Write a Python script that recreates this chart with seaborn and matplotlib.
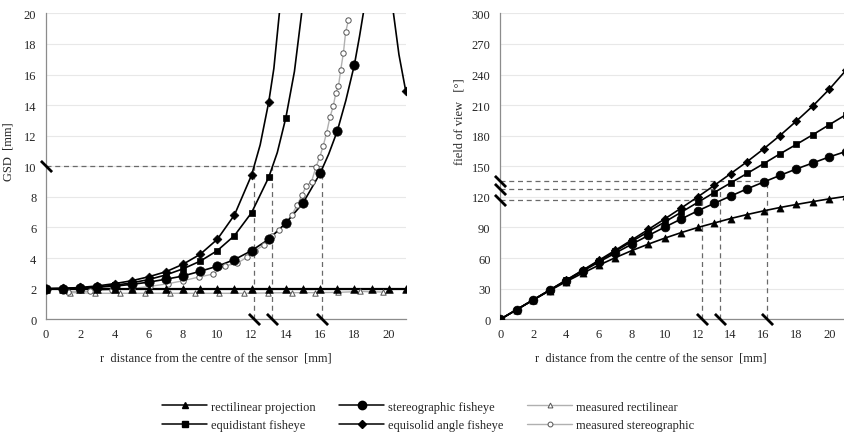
import numpy as np
import matplotlib
matplotlib.use("Agg")
import matplotlib.pyplot as plt
from matplotlib.lines import Line2D
import seaborn as sns

# radial distance on the sensor [mm]
r_int = [0, 1, 2, 3, 4, 5, 6, 7, 8, 9, 10, 11, 12, 13, 14, 15, 16, 17, 18, 19, 20, 21]

# ---- GSD [mm] (left panel) ----
gsd_rect = [2.0, 2.0, 2.0, 2.0, 2.0, 2.0, 2.0, 2.0, 2.0, 2.0, 2.0,
            2.0, 2.0, 2.0, 2.0, 2.0, 2.0, 2.0, 2.0, 2.0, 2.0, 2.0]

equidist_r = [0, 1, 2, 3, 4, 5, 6, 7, 8, 9, 10, 11, 12, 13, 14]
equidist_gsd = [2.0, 2.01, 2.05, 2.12, 2.22, 2.38, 2.6, 2.9, 3.3, 3.8, 4.49, 5.47, 6.97, 9.28, 13.18]
equidist_extra_r = [13.5, 14.5, 14.92, 15.1]
equidist_extra_gsd = [10.9, 16.2, 20.0, 22.5]

equisolid_r = [0, 1, 2, 3, 4, 5, 6, 7, 8, 9, 10, 11, 12, 13]
equisolid_gsd = [2.0, 2.02, 2.08, 2.18, 2.33, 2.52, 2.78, 3.11, 3.6, 4.25, 5.23, 6.82, 9.43, 14.2]
equisolid_extra_r = [12.5, 13.3, 13.62, 13.75]
equisolid_extra_gsd = [11.4, 16.4, 20.0, 22.0]
# branch coming back below 20 mm at the edge of the sensor
equisolid_back_r = [20.15, 20.28, 20.6, 21]
equisolid_back_gsd = [22.0, 20.0, 17.3, 14.9]

stereo_r = [0, 1, 2, 3, 4, 5, 6, 7, 8, 9, 10, 11, 12, 13, 14, 15, 16, 17, 18]
stereo_gsd = [2.0, 2.01, 2.04, 2.1, 2.17, 2.28, 2.43, 2.62, 2.83, 3.14, 3.47,
              3.9, 4.49, 5.23, 6.29, 7.6, 9.54, 12.3, 16.64]
stereo_extra_r = [16.5, 17.5, 18.3, 18.52, 18.65]
stereo_extra_gsd = [10.8, 14.3, 18.5, 20.0, 21.5]

meas_rect_r = [1.4, 2.86, 4.32, 5.78, 7.24, 8.7, 10.1, 11.56, 12.94, 14.34, 15.7, 17.07, 18.33, 19.69]
meas_rect_gsd = [1.75, 1.7, 1.7, 1.7, 1.7, 1.7, 1.7, 1.7, 1.72, 1.74, 1.74, 1.76, 1.82, 1.78]

meas_stereo_r = [1.3, 2.57, 3.83, 5.0, 6.07, 7.14, 8.0, 8.95, 9.73, 10.45, 11.13, 11.71,
                 12.2, 12.72, 13.17, 13.6, 14.01, 14.34, 14.67, 14.94, 15.2, 15.5, 15.76,
                 15.99, 16.18, 16.38, 16.57, 16.77, 16.92, 17.07, 17.2, 17.36, 17.49, 17.65]
meas_stereo_gsd = [1.8, 1.83, 1.94, 2.0, 2.15, 2.33, 2.52, 2.77, 2.95, 3.5, 3.65, 4.04,
                   4.49, 4.85, 5.45, 5.86, 6.3, 6.82, 7.47, 8.14, 8.72, 9.0, 9.97,
                   10.64, 11.34, 12.2, 13.19, 13.95, 14.82, 15.25, 16.28, 17.43, 18.78, 19.54]

gsd_limit = 10
gsd_limit_r = [12.14, 13.19, 16.13]

# ---- field of view [deg] (right panel) ----
fov_rect = [0, 9.5, 18.9, 28.1, 36.9, 45.2, 53.1, 60.5, 67.4, 73.7, 79.6,
            85.0, 90.0, 94.4, 98.8, 102.7, 106.3, 109.6, 112.6, 115.4, 118.1, 120.5]
fov_equidist = [0, 9.5, 19.1, 28.6, 38.2, 47.7, 57.3, 66.8, 76.4, 85.9, 95.5,
                105.0, 114.6, 124.3, 133.7, 143.0, 152.5, 162.2, 171.5, 181.0, 190.8, 200.5]
fov_equisolid = [0, 9.6, 19.1, 28.7, 38.4, 48.1, 57.9, 67.8, 77.9, 88.1, 98.5,
                 109.1, 120.0, 131.2, 142.8, 154.5, 167.0, 180.2, 194.4, 209.2, 225.6, 244.0]
fov_stereo = [0, 9.5, 19.0, 28.5, 37.9, 47.1, 56.2, 65.0, 73.7, 82.2, 90.4,
              98.4, 106.3, 113.7, 120.8, 127.9, 134.5, 141.1, 147.4, 153.3, 159.2, 164.5]

fov_limit_r = [12.26, 13.37, 16.21]
fov_limit = [117, 128, 136]

sns.set_style("white")
plt.rcParams["font.family"] = ["Liberation Serif", "DejaVu Serif"]
plt.rcParams["font.size"] = 9

BLACK = "black"
GREY_LINE = "#b0b0b0"
GREY_EDGE = "#555555"
DASH = "#6a6a6a"

fig = plt.figure(figsize=(8.44, 4.39), dpi=100)
ax1 = fig.add_axes([46 / 844, 0.2704, 359.8 / 844, 0.697])
ax2 = fig.add_axes([500.3 / 844, 0.2704, 345.5 / 844, 0.697])


def curve(ax, x, y, extra_x=(), extra_y=(), color=BLACK, lw=1.2):
    xs = np.concatenate([x, extra_x]).astype(float)
    ys = np.concatenate([y, extra_y]).astype(float)
    order = np.argsort(xs)
    sns.lineplot(x=xs[order], y=ys[order], sort=False, estimator=None,
                 color=color, lw=lw, ax=ax, zorder=3)


def dots(ax, x, y, marker, s, filled=True, zorder=4):
    if filled:
        sns.scatterplot(x=x, y=y, marker=marker, s=s, color=BLACK,
                        edgecolor=BLACK, linewidth=0.5, ax=ax, zorder=zorder)
    else:
        sns.scatterplot(x=x, y=y, marker=marker, s=s, facecolor="white",
                        edgecolor=GREY_EDGE, linewidth=0.7, ax=ax, zorder=zorder)


def break_mark(ax, x, y):
    ax.plot(x, y, ls="none", marker=[(-1, 1), (1, -1)], ms=8, mew=2.0,
            color=BLACK, clip_on=False, zorder=6)


# ---------------- left panel: GSD ----------------
ax1.plot([0, max(gsd_limit_r)], [gsd_limit, gsd_limit], ls=(0, (4, 3)), color=DASH, lw=0.9, zorder=2)
for rv in gsd_limit_r:
    ax1.plot([rv, rv], [0, gsd_limit], ls=(0, (4, 3)), color=DASH, lw=0.9, zorder=2)

# measured
curve(ax1, meas_rect_r, meas_rect_gsd, color=GREY_LINE, lw=1.0)
curve(ax1, meas_stereo_r, meas_stereo_gsd, color=GREY_LINE, lw=1.0)
dots(ax1, meas_rect_r, meas_rect_gsd, "^", 15, filled=False)
dots(ax1, meas_stereo_r, meas_stereo_gsd, "o", 15, filled=False)

# theoretical
curve(ax1, r_int, gsd_rect, lw=1.6)
curve(ax1, equidist_r, equidist_gsd, equidist_extra_r, equidist_extra_gsd)
curve(ax1, equisolid_r, equisolid_gsd, equisolid_extra_r, equisolid_extra_gsd)
curve(ax1, equisolid_back_r, equisolid_back_gsd)
curve(ax1, stereo_r, stereo_gsd, stereo_extra_r, stereo_extra_gsd)

dots(ax1, r_int, gsd_rect, "^", 30)
dots(ax1, equidist_r, equidist_gsd, "s", 24)
dots(ax1, equisolid_r + [equisolid_back_r[-1]], equisolid_gsd + [equisolid_back_gsd[-1]], "D", 20)
dots(ax1, stereo_r, stereo_gsd, "o", 45)

ax1.set_xlim(0, 21)
ax1.set_ylim(0, 20)
ax1.set_xticks(range(0, 21, 2))
ax1.set_xticks(range(0, 22), minor=True)
ax1.set_yticks(range(0, 21, 2))
ax1.set_yticks(range(0, 21, 1), minor=True)
ax1.set_ylabel("GSD  [mm]")
ax1.yaxis.set_label_coords(-0.088, 0.55)

for rv in gsd_limit_r:
    break_mark(ax1, rv, 0)
break_mark(ax1, 0, gsd_limit)

# ---------------- right panel: field of view ----------------
for rv, fv in zip(fov_limit_r, fov_limit):
    ax2.plot([0, rv], [fv, fv], ls=(0, (4, 3)), color=DASH, lw=0.9, zorder=2)
    ax2.plot([rv, rv], [0, fv], ls=(0, (4, 3)), color=DASH, lw=0.9, zorder=2)

for vals, mk, s in [(fov_rect, "^", 26), (fov_stereo, "o", 40),
                    (fov_equidist, "s", 22), (fov_equisolid, "D", 18)]:
    curve(ax2, r_int, vals)
    dots(ax2, r_int, vals, mk, s)

ax2.set_xlim(0, 21)
ax2.set_ylim(0, 300)
ax2.set_xticks(range(0, 21, 2))
ax2.set_xticks(range(0, 22), minor=True)
ax2.set_yticks(range(0, 301, 30))
ax2.set_yticks(range(0, 301, 10), minor=True)
ax2.set_ylabel("field of view   [°]")
ax2.yaxis.set_label_coords(-0.102, 0.648)

for rv, fv in zip(fov_limit_r, fov_limit):
    break_mark(ax2, rv, 0)
    break_mark(ax2, 0, fv)

# common styling
for ax, lx in [(ax1, 0.472), (ax2, 0.436)]:
    ax.set_xlabel("r  distance from the centre of the sensor  [mm]")
    ax.xaxis.set_label_coords(lx, -0.105)
    for side in ["top", "right"]:
        ax.spines[side].set_visible(False)
    for side in ["left", "bottom"]:
        ax.spines[side].set_color("#8c8c8c")
        ax.spines[side].set_linewidth(0.9)
    ax.yaxis.grid(True, which="major", color="#e8e8e8", lw=0.8)
    ax.set_axisbelow(True)
    ax.tick_params(axis="y", which="major", direction="out", length=3, color="#8c8c8c", labelsize=9, pad=4)
    ax.tick_params(axis="y", which="minor", direction="out", length=2, color="#8c8c8c")
    ax.tick_params(axis="x", which="major", direction="inout", length=4, color="#8c8c8c", labelsize=9, pad=4)
    ax.tick_params(axis="x", which="minor", direction="inout", length=3, color="#8c8c8c")
    ax.set_facecolor("white")

# legend
handles = [
    Line2D([], [], color=BLACK, lw=1.1, marker="^", ms=5),
    Line2D([], [], color=BLACK, lw=1.1, marker="s", ms=4.5),
    Line2D([], [], color=BLACK, lw=1.1, marker="o", ms=6),
    Line2D([], [], color=BLACK, lw=1.1, marker="D", ms=4),
    Line2D([], [], color=GREY_LINE, lw=1.0, marker="^", ms=3.5, mfc="white", mec=GREY_EDGE, mew=0.7),
    Line2D([], [], color=GREY_LINE, lw=1.0, marker="o", ms=3.5, mfc="white", mec=GREY_EDGE, mew=0.7),
]
labels = ["rectilinear projection", "equidistant fisheye",
          "stereographic fisheye", "equisolid angle fisheye",
          "measured rectilinear", "measured stereographic"]
fig.legend(handles, labels, loc="center", bbox_to_anchor=(428 / 844, 0.05), ncol=3,
           frameon=False, handlelength=3.6, columnspacing=1.9, handletextpad=0.3,
           labelspacing=0.55, fontsize=9)

fig.savefig("out.png", dpi=100)
